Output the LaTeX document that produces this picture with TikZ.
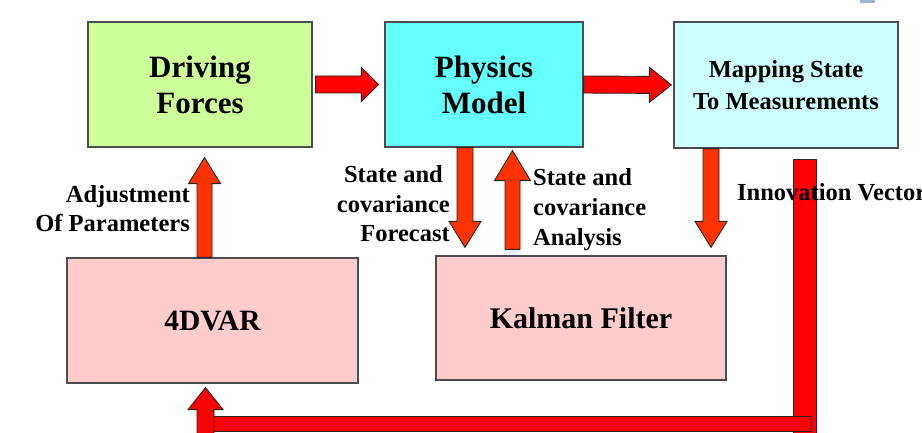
\documentclass[tikz,border=0pt]{standalone}
\usepackage{fontspec}
\setmainfont{Liberation Serif}
\usetikzlibrary{calc}
\definecolor{drvgreen}{HTML}{CCFF99}
\definecolor{physcyan}{HTML}{66FFFF}
\definecolor{mapcyan}{HTML}{CCFFFF}
\definecolor{boxpink}{HTML}{FFCCCC}
\definecolor{arrred}{HTML}{FF0000}
\definecolor{arrorange}{HTML}{FF3300}
\definecolor{boxline}{HTML}{4D4D4D}
\definecolor{markblue}{HTML}{A0B4D0}
\newcommand\blockarrow[6]{%
  \coordinate (ba-base) at ($(#2)!#5!(#1)$);
  \draw[arrowline, fill=#6] ($(#1)!#3!90:(#2)$) -- ($(ba-base)!#3!-90:(#1)$) -- ($(ba-base)!#4!-90:(#1)$) -- (#2) -- ($(ba-base)!#4!90:(#1)$) -- ($(ba-base)!#3!90:(#1)$) -- ($(#1)!#3!-90:(#2)$) -- cycle;
}
\begin{document}
\begin{tikzpicture}[x=1pt,y=-1pt,
  box/.style={draw=boxline, line width=1.2pt, align=center, inner sep=0pt, font=\fontsize{31}{36}\selectfont\bfseries},
  lbl/.style={inner sep=0pt, font=\fontsize{24.5}{29.5}\selectfont\bfseries},
  arrowline/.style={draw=black!85, line width=0.9pt, line join=miter}]
\useasboundingbox (0,0) rectangle (922,433);
\fill[markblue] (860,0) rectangle (875,3);
% boxes
\node[box, fill=drvgreen, minimum width=224pt, minimum height=125pt] (drive) at (200,84.5) {Driving\\Forces};
\node[box, fill=physcyan, minimum width=198pt, minimum height=125pt] (phys) at (484,84.5) {Physics\\Model};
\node[box, fill=mapcyan, minimum width=224pt, minimum height=126pt, font=\fontsize{24.5}{32}\selectfont\bfseries] (map) at (786,85) {Mapping State\\To Measurements};
\node[box, fill=boxpink, minimum width=291pt, minimum height=125pt, font=\fontsize{29.5}{35}\selectfont\bfseries] (var) at (212.5,320.5) {4DVAR};
\node[box, fill=boxpink, minimum width=290pt, minimum height=124pt, font=\fontsize{30}{35}\selectfont\bfseries] (kal) at (581,318) {Kalman Filter};
% horizontal arrows
\coordinate (a1s) at ($(drive.east)+(3,0)$);
\coordinate (a1e) at ($(phys.west)+(-6,0)$);
\blockarrow{a1s}{a1e}{8.5pt}{17pt}{17pt}{arrred}
\coordinate (a2s) at (phys.east);
\coordinate (a2e) at ($(map.west)+(-2,0)$);
\blockarrow{a2s}{a2e}{8.5pt}{17.5pt}{22pt}{arrred}
% forecast
\coordinate (fcs) at ($(phys.south)+(-19,0)$);
\coordinate (fce) at ($(fcs |- kal.north)+(0,-8)$);
\blockarrow{fcs}{fce}{8pt}{16pt}{26pt}{arrorange}
% analysis
\coordinate (ane) at ($(phys.south)+(28.5,3)$);
\coordinate (ans) at ($(ane |- kal.north)+(0,-6)$);
\blockarrow{ans}{ane}{7.5pt}{18pt}{30pt}{arrorange}
% mapping down
\coordinate (mds) at ($(map.south)+(-75,0)$);
\coordinate (mde) at ($(mds |- kal.north)+(0,-8)$);
\blockarrow{mds}{mde}{8pt}{16pt}{26pt}{arrorange}
% adjustment
\coordinate (ads) at ($(var.north)+(-8,0)$);
\coordinate (ade) at ($(ads |- drive.south)+(0,10)$);
\blockarrow{ads}{ade}{7.5pt}{16pt}{26pt}{arrorange}
% innovation path
\coordinate (ivtop) at ($(map.south)+(18.5,11)$);
\coordinate (ivbar) at ($(ivtop)+(0,264.5)$);
\coordinate (ivs) at ($(var.south)+(-7,60)$);
\coordinate (ive) at ($(var.south)+(-7,4)$);
\draw[arrowline, fill=arrred] ($(ivtop)+(-11.5,0)$) rectangle ($(ivtop)+(11.5,290)$);
\draw[arrowline, fill=arrred] ($(ive |- ivbar)+(7.5,-7.5)$) rectangle ($(ivbar)+(6.5,7.5)$);
\blockarrow{ivs}{ive}{8.5pt}{17.5pt}{22pt}{arrred}
% labels
\node[lbl, anchor=base west] (ivlbl) at ($(ivtop)+(-67.5,41)$) {Innovation Vector};
\node[lbl, anchor=base east, align=right] (adjlbl) at (190,232) {Adjustment\\Of Parameters};
\node[lbl, anchor=base east, align=right] (fclbl) at (450,242) {State and\hspace*{7pt}\\covariance\\Forecast};
\node[lbl, anchor=base west, align=left] (anlbl) at (533,245) {State and\\covariance\\Analysis};
\end{tikzpicture}
\end{document}
